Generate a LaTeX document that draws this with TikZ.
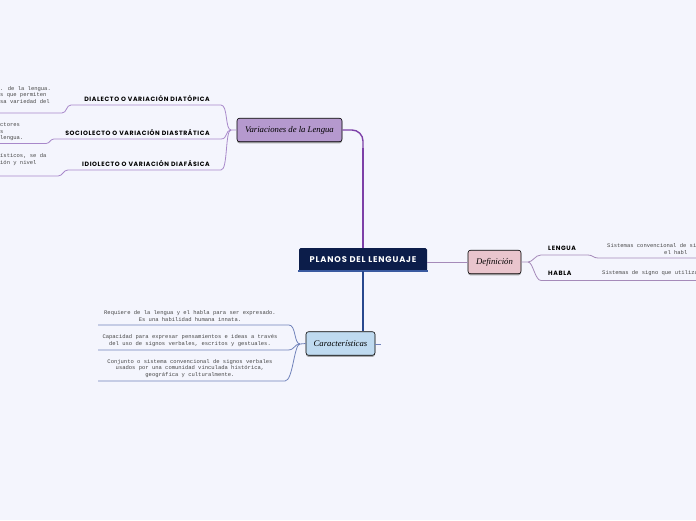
\documentclass[tikz,border=0pt]{standalone}
\usepackage{fontspec}
\usetikzlibrary{shadows}
\newfontfamily\notefont{Liberation Mono}
\newfontfamily\branchfont[LetterSpace=10]{Poppins}
\newfontfamily\handfont{Liberation Serif}
\definecolor{paperbg}{RGB}{244,245,253}
\definecolor{planosfill}{RGB}{12,29,74}
\definecolor{planosbar}{RGB}{58,90,160}
\definecolor{varfill}{RGB}{181,153,206}
\definecolor{deffill}{RGB}{233,197,205}
\definecolor{carfill}{RGB}{191,218,240}
\definecolor{varline}{RGB}{125,64,168}
\definecolor{varthin}{RGB}{168,136,202}
\definecolor{defthin}{RGB}{165,138,185}
\definecolor{carline}{RGB}{40,72,142}
\definecolor{carthin}{RGB}{112,130,186}
\begin{document}
\begin{tikzpicture}[x=1pt, y=-1pt,
    topic/.style={draw=black, line width=0.6pt, rounded corners=2.5pt, inner sep=0pt,
      minimum height=23.5pt, font=\handfont\itshape\fontsize{8.7}{10}\selectfont,
      drop shadow={shadow xshift=0pt, shadow yshift=-1.6pt, fill=black!55, opacity=0.6}},
    branch/.style={font=\branchfont\bfseries\fontsize{6.2}{7}\selectfont, inner sep=0pt},
    note/.style={font=\notefont\fontsize{5.5}{6.3}\selectfont, inner sep=0pt, text=black!72},
    twig/.style={line width=0.8pt}]
  \path[use as bounding box, fill=paperbg] (0,0) rectangle (696,520);

  % central topic
  \node[fill=planosfill, rounded corners=1.5pt, minimum width=128pt, minimum height=23pt,
    text=white, font=\branchfont\bfseries\fontsize{8.3}{9}\selectfont] (planos) at (363,259.5) {PLANOS DEL LENGUAJE};
  \draw[planosbar, line width=1.6pt] ([xshift=-1pt]planos.south west) -- ([xshift=1pt]planos.south east);

  % main topics
  \node[topic, fill=varfill, minimum width=105pt] (variaciones) at (289.5,130) {Variaciones de la Lengua};
  \node[topic, fill=deffill, minimum width=53pt] (definicion) at (494.5,262) {Definición};
  \node[topic, fill=carfill, minimum width=69pt] (caracteristicas) at (340.5,343.5) {Características};

  % main connectors
  \draw[varline, line width=1.4pt, rounded corners=11pt] (planos.north) |- (variaciones.east);
  \draw[varline, line width=2.6pt] (planos.north) -- ++(0,-100);
  \draw[carline, line width=2.6pt] (planos.south) -- (planos.south |- caracteristicas.north);
  \draw[defthin, line width=0.9pt] (planos.east |- definicion.west) -- (definicion.west);
  \coordinate (car-stub) at (381,344);
  \draw[carthin, twig] (caracteristicas.east |- car-stub) -- (car-stub);

  % Variaciones de la Lengua
  \node[branch, anchor=east] (dialecto) at (210,98.5) {DIALECTO O VARIACIÓN DIATÓPICA};
  \node[branch, anchor=east] (sociolecto) at (210,132.5) {SOCIOLECTO O VARIACIÓN DIASTRÁTICA};
  \node[branch, anchor=east] (idiolecto) at (210,163) {IDIOLECTO O VARIACIÓN DIAFÁSICA};
  \coordinate (var-fan) at (231,130);
  \coordinate (dia-r) at (221,105);  \coordinate (dia-l) at (71,105);
  \coordinate (dia-k) at (62,113);   \coordinate (dia-end) at (0,113);
  \coordinate (soc-r) at (221,139);  \coordinate (soc-l) at (54,139);
  \coordinate (soc-k) at (46,143.5); \coordinate (soc-end) at (0,143.5);
  \coordinate (idi-r) at (221,170);  \coordinate (idi-l) at (68,170);
  \coordinate (idi-k) at (58,176);   \coordinate (idi-end) at (0,176);
  \draw[varthin, twig] (variaciones.west) -- (var-fan) .. controls +(-6,0) and +(7,0) .. (dia-r) -- (dia-l)
    .. controls +(-5,0) and +(5,0) .. (dia-k) -- (dia-end);
  \draw[varthin, twig] (var-fan) .. controls +(-6,0) and +(7,0) .. (soc-r) -- (soc-l)
    .. controls +(-4,0) and +(4,0) .. (soc-k) -- (soc-end);
  \draw[varthin, twig] (var-fan) .. controls +(-6,0) and +(7,0) .. (idi-r) -- (idi-l)
    .. controls +(-5,0) and +(5,0) .. (idi-k) -- (idi-end);
  \node[note, anchor=west, align=left] (dia-note) at (0,95) {. de la lengua.\\s que permiten\\sa variedad del};
  \node[note, anchor=west, align=left] (soc-note) at (0,132) {ctores\\s\\lengua.};
  \node[note, anchor=west, align=left] (idi-note) at (0,159.5) {ísticos, se da\\ión y nivel};

  % Definición
  \node[branch, anchor=west] (lengua) at (548,248.5) {LENGUA};
  \node[branch, anchor=west] (habla) at (548,273.5) {HABLA};
  \coordinate (def-fan) at (528,262);
  \coordinate (len-l) at (541,255);  \coordinate (len-r) at (588,255);
  \coordinate (len-k) at (598,258);  \coordinate (len-end) at (696,258);
  \coordinate (hab-l) at (541,280.5); \coordinate (hab-end) at (696,280.5);
  \draw[defthin, twig] (definicion.east) -- (def-fan) .. controls +(5,0) and +(-6,0) .. (len-l) -- (len-r)
    .. controls +(5,0) and +(-5,0) .. (len-k) -- (len-end);
  \draw[defthin, twig] (def-fan) .. controls +(5,0) and +(-6,0) .. (hab-l) -- (hab-end);
  \node[note, anchor=west, align=left] (lengua-note) at (607,249) {Sistemas convencional de si\\\hspace*{57pt}el habl};
  \node[note, anchor=west] (habla-note) at (602,273) {Sistemas de signo que utiliza};

  % Características
  \coordinate (car-fan) at (300,344);
  \coordinate (req-r) at (289,325);  \coordinate (req-l) at (98,325);
  \coordinate (cap-r) at (288,350);  \coordinate (cap-l) at (98,350);
  \coordinate (con-r) at (285,381);  \coordinate (con-l) at (98,381);
  \draw[carthin, twig] (caracteristicas.west) -- (car-fan) .. controls +(-6,0) and +(7,0) .. (req-r) -- (req-l);
  \draw[carthin, twig] (car-fan) .. controls +(-6,0) and +(7,0) .. (cap-r) -- (cap-l);
  \draw[carthin, twig] (car-fan) .. controls +(-6,0) and +(8,0) .. (con-r) -- (con-l);
  \node[note, align=center] (req-note) at (190,316) {Requiere de la lengua y el habla para ser expresado.\\Es una habilidad humana innata.};
  \node[note, align=center] (cap-note) at (190,340.5) {Capacidad para expresar pensamientos e ideas a través\\del uso de signos verbales, escritos y gestuales.};
  \node[note, align=center] (con-note) at (190,368.5) {Conjunto o sistema convencional de signos verbales\\usados por una comunidad vinculada histórica,\\geográfica y culturalmente.};
\end{tikzpicture}
\end{document}
